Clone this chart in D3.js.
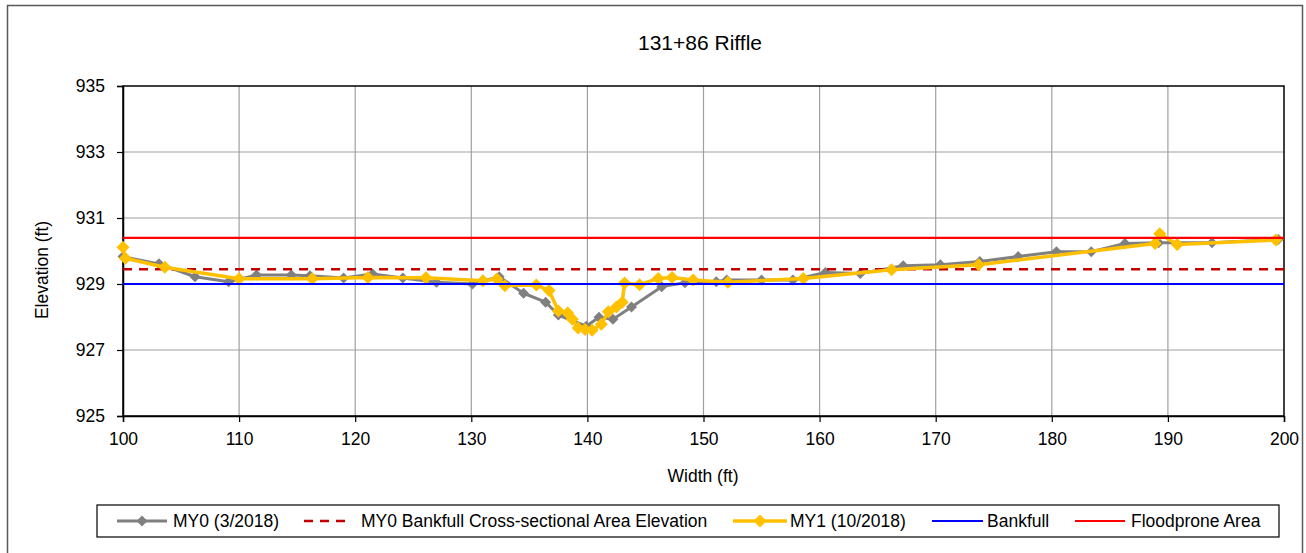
<!DOCTYPE html>
<html>
<head>
<meta charset="utf-8">
<script src="https://cdn.jsdelivr.net/npm/d3@7"></script>
<style>
  html, body { margin: 0; padding: 0; background: #fff; }
  svg text { font-family: "Liberation Sans", Arial, sans-serif; fill: #000; }
</style>
</head>
<body>
<svg id="chart" width="1306" height="553"></svg>
<script>
// Cross-section survey: station (ft) vs elevation (ft)
const chartTitle = "131+86 Riffle";

const my0Station = [100.0, 103.1, 106.2, 109.1, 111.5, 114.5, 116.1, 119.0, 121.5, 124.1,
  127.0, 130.1, 132.4, 134.5, 136.4, 137.5, 139.9, 141.0, 142.2, 143.8,
  146.4, 148.4, 151.1, 152.0, 155.0, 157.7, 160.5, 163.5, 167.2, 170.4,
  173.8, 177.1, 180.4, 183.4, 186.3, 189.2, 193.8, 199.5];
const my0Elev = [929.83, 929.61, 929.22, 929.07, 929.27, 929.27, 929.25, 929.18, 929.30, 929.18,
  929.05, 929.00, 929.22, 928.72, 928.45, 928.06, 927.72, 927.99, 927.93, 928.30,
  928.92, 929.04, 929.07, 929.12, 929.12, 929.12, 929.35, 929.32, 929.55, 929.58,
  929.68, 929.83, 929.98, 929.98, 930.23, 930.25, 930.25, 930.35];

const my1Station = [100.0, 100.2, 103.6, 110.0, 116.3, 121.1, 126.1, 131.0, 132.2, 132.9,
  135.6, 136.7, 137.5, 138.3, 138.7, 139.2, 139.8, 140.4, 141.2, 141.8,
  142.5, 143.0, 143.2, 144.5, 146.1, 147.3, 149.1, 152.1, 158.6, 166.2,
  173.7, 188.9, 189.3, 190.8, 199.3];
const my1Elev = [930.11, 929.78, 929.51, 929.16, 929.16, 929.20, 929.19, 929.10, 929.15, 928.95,
  928.97, 928.80, 928.18, 928.12, 927.93, 927.67, 927.62, 927.60, 927.78, 928.16,
  928.30, 928.45, 929.03, 928.98, 929.17, 929.20, 929.12, 929.05, 929.17, 929.43,
  929.58, 930.23, 930.52, 930.20, 930.33];

// Reference elevations drawn across the full section
const bkfAreaElev = 929.45;   // MY0 bankfull cross-sectional area elevation
const bankfullElev = 929.0;
const floodproneElev = 930.40;

const xTicks = [100, 110, 120, 130, 140, 150, 160, 170, 180, 190, 200];
const yTicks = [925, 927, 929, 931, 933, 935];

const legendLabels = ["MY0 (3/2018)", "MY0 Bankfull Cross-sectional Area Elevation",
  "MY1 (10/2018)", "Bankfull", "Floodprone Area"];

const svg = d3.select("#chart");
const plot = { left: 123, right: 1284, top: 86, bottom: 416 };

const x = d3.scaleLinear().domain([100, 200]).range([plot.left, plot.right]);
const y = d3.scaleLinear().domain([925, 935]).range([plot.bottom, plot.top]);

// outer chart frame
svg.append("rect").attr("x", 7.5).attr("y", 5.5).attr("width", 1295).attr("height", 560)
  .attr("fill", "#fff").attr("stroke", "#595959").attr("stroke-width", 1.5);

// title
svg.append("text").attr("x", 700).attr("y", 50).attr("text-anchor", "middle")
  .style("font-size", "21px").text(chartTitle);

// gridlines
const grid = svg.append("g");
grid.selectAll("line.v").data(xTicks.slice(1, -1)).join("line")
  .attr("x1", d => x(d)).attr("x2", d => x(d))
  .attr("y1", plot.top).attr("y2", plot.bottom)
  .attr("stroke", "#a0a0a0").attr("stroke-width", 1.2);
grid.selectAll("line.h").data(yTicks.slice(1, -1)).join("line")
  .attr("x1", plot.left).attr("x2", plot.right)
  .attr("y1", d => y(d)).attr("y2", d => y(d))
  .attr("stroke", "#a0a0a0").attr("stroke-width", 1.2);

// axes
const xAxis = svg.append("g").attr("transform", `translate(0,${plot.bottom})`)
  .call(d3.axisBottom(x).tickValues(xTicks).tickSize(6).tickPadding(11).tickFormat(d3.format("d")));
const yAxis = svg.append("g").attr("transform", `translate(${plot.left},0)`)
  .call(d3.axisLeft(y).tickValues(yTicks).tickSize(6).tickPadding(12).tickFormat(d3.format("d")));
[xAxis, yAxis].forEach(a => {
  a.select(".domain").attr("stroke", "#000").attr("stroke-width", 1.5);
  a.selectAll(".tick line").attr("stroke", "#000").attr("stroke-width", 1.2);
  a.selectAll(".tick text").style("font-size", "17.5px").attr("fill", "#000")
    .style("font-family", "'Liberation Sans', Arial, sans-serif");
});

// plot-area border
svg.append("rect").attr("x", plot.left).attr("y", plot.top)
  .attr("width", plot.right - plot.left).attr("height", plot.bottom - plot.top)
  .attr("fill", "none").attr("stroke", "#000").attr("stroke-width", 1.5);

// axis titles
svg.append("text").attr("x", 703).attr("y", 482).attr("text-anchor", "middle")
  .style("font-size", "17.5px").text("Width (ft)");
svg.append("text").attr("transform", "translate(48,270) rotate(-90)")
  .attr("text-anchor", "middle").style("font-size", "17.5px").text("Elevation (ft)");

const line = d3.line().x(d => x(d[0])).y(d => y(d[1]));
const diamond = r => `M0,${-r}L${r},0L0,${r}L${-r},0Z`;

const plotG = svg.append("g");

function drawSeries(xs, ys, color, width, r) {
  const pts = xs.map((v, i) => [v, ys[i]]);
  plotG.append("path").datum(pts).attr("d", line)
    .attr("fill", "none").attr("stroke", color).attr("stroke-width", width)
    .attr("stroke-linejoin", "round");
  plotG.append("g").selectAll("path").data(pts).join("path")
    .attr("transform", d => `translate(${x(d[0])},${y(d[1])})`)
    .attr("d", diamond(r)).attr("fill", color);
}

function drawLevel(elev, color, width, dash) {
  const p = plotG.append("line")
    .attr("x1", x(100)).attr("x2", x(200))
    .attr("y1", y(elev)).attr("y2", y(elev))
    .attr("stroke", color).attr("stroke-width", width);
  if (dash) p.attr("stroke-dasharray", dash);
}

drawSeries(my0Station, my0Elev, "#808080", 3, 5.5);
drawLevel(bkfAreaElev, "#c00000", 2.5, "9,7");
drawSeries(my1Station, my1Elev, "#ffc000", 3.5, 6.5);
drawLevel(bankfullElev, "#0000ff", 2.2);
drawLevel(floodproneElev, "#ff0000", 2.2);

// legend
const lg = svg.append("g");
lg.append("rect").attr("x", 97).attr("y", 505).attr("width", 1182).attr("height", 32)
  .attr("fill", "#fff").attr("stroke", "#000").attr("stroke-width", 1.2);
const legendItems = [
  { label: legendLabels[0], color: "#808080", w: 3, marker: 5.5, x0: 117, x1: 167, tx: 173 },
  { label: legendLabels[1], color: "#c00000", w: 2.5, dash: "9,7", x0: 304, x1: 350, tx: 361 },
  { label: legendLabels[2], color: "#ffc000", w: 3.5, marker: 6.5, x0: 733, x1: 787, tx: 790 },
  { label: legendLabels[3], color: "#0000ff", w: 2.2, x0: 932, x1: 983, tx: 987 },
  { label: legendLabels[4], color: "#ff0000", w: 2.2, x0: 1075, x1: 1125, tx: 1131 }
];
const ly = 521;
legendItems.forEach(it => {
  const l = lg.append("line").attr("x1", it.x0).attr("x2", it.x1).attr("y1", ly).attr("y2", ly)
    .attr("stroke", it.color).attr("stroke-width", it.w);
  if (it.dash) l.attr("stroke-dasharray", it.dash);
  if (it.marker) lg.append("path").attr("transform", `translate(${(it.x0 + it.x1) / 2},${ly})`)
    .attr("d", diamond(it.marker)).attr("fill", it.color);
  lg.append("text").attr("x", it.tx).attr("y", ly + 6).style("font-size", "17.5px").text(it.label);
});
</script>
</body>
</html>
